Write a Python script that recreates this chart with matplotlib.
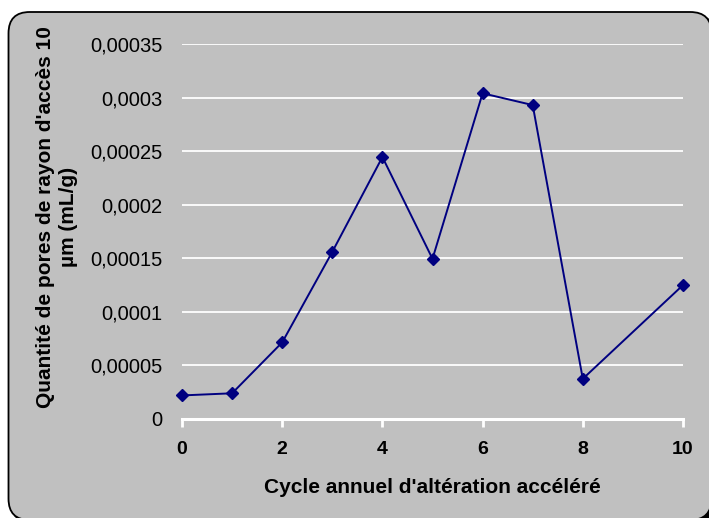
import matplotlib
matplotlib.use("Agg")
import matplotlib.pyplot as plt
from matplotlib.patches import FancyBboxPatch

cycles = [0, 1, 2, 3, 4, 5, 6, 7, 8, 10]
values = [0.000022, 0.000024, 0.0000715, 0.000156, 0.0002445, 0.0001495,
          0.000304, 0.000293, 0.0000375, 0.000125]
yticks = [0, 0.00005, 0.0001, 0.00015, 0.0002, 0.00025, 0.0003, 0.00035]
ytick_labels = ["0", "0,00005", "0,0001", "0,00015", "0,0002", "0,00025", "0,0003", "0,00035"]
xticks = [0, 2, 4, 6, 8, 10]
xlabel = "Cycle annuel d'altération accéléré"
ylabel = "Quantité de pores de rayon d'accès 10\nµm (mL/g)"

plt.rcParams['font.family'] = ['Liberation Sans', 'DejaVu Sans']

W, H = 709, 518
fig = plt.figure(figsize=(W / 100, H / 100), dpi=100)
fig.patch.set_facecolor('white')

# rounded chart-area background with shadow
x0, y0, bw, bh = 8.5, 12, 703, 508   # pixels from top-left
for dx, dy, fc, z in [(3, 3, 'black', -6), (0, 0, '#C0C0C0', -5)]:
    p = FancyBboxPatch(((x0 + dx) / W, 1 - (y0 + dy + bh) / H), bw / W, bh / H,
                       boxstyle="round,pad=0,rounding_size=0.03",
                       transform=fig.transFigure, facecolor=fc,
                       edgecolor='black', linewidth=1.3, zorder=z,
                       mutation_aspect=W / H)
    fig.patches.append(p)

ax = fig.add_axes([182 / W, 1 - 419 / H, (683 - 182) / W, (419 - 44) / H])
ax.set_zorder(2)
ax.set_facecolor('none')
ax.set_xlim(0, 10)
ax.set_ylim(0, 0.00035)

for y in yticks[1:]:
    ax.axhline(y, color='white', lw=1.3, zorder=1)

ax.plot(cycles, values, color='#000080', lw=1.4, marker='D', markersize=6.5,
        markerfacecolor='#000080', markeredgecolor='#000080', zorder=3,
        clip_on=False)

for s in ['top', 'right', 'left']:
    ax.spines[s].set_visible(False)
ax.spines['bottom'].set_color('white')
ax.spines['bottom'].set_linewidth(2.2)

ax.set_xticks(xticks)
ax.set_xticklabels([str(t) for t in xticks], fontsize=14, fontweight='bold')
ax.tick_params(axis='x', colors='white', length=6, width=2, direction='out',
               pad=10, labelcolor='black')
ax.set_yticks(yticks)
ax.set_yticklabels(ytick_labels, fontsize=14.5)
ax.tick_params(axis='y', length=0, pad=14, labelcolor='black')

ax.set_xlabel(xlabel, fontsize=15, fontweight='bold', labelpad=14)
fig.text(57 / W, 1 - 217 / H, ylabel, rotation=90, fontsize=15,
         fontweight='bold', ha='center', va='center', multialignment='center',
         linespacing=1.25)

fig.savefig('out.png', dpi=100)
